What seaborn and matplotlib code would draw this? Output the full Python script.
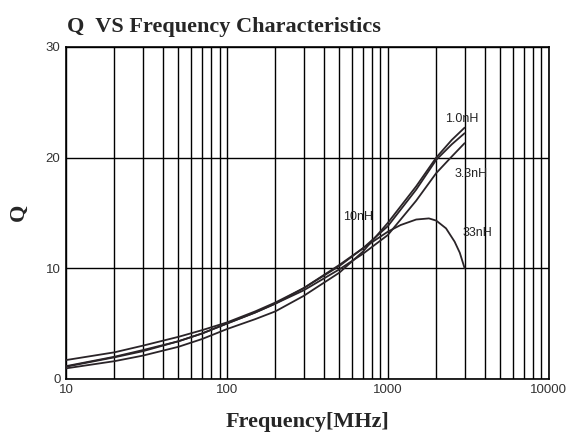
import pandas as pd
import numpy as np
import matplotlib
matplotlib.use("Agg")
import matplotlib.pyplot as plt
import matplotlib.ticker as mticker
import seaborn as sns

# values (Q vs frequency in MHz)
freq = [10, 20, 30, 50, 70, 100, 150, 200, 300, 500, 700, 1000, 1500, 2000, 2500, 3000]
q_1n0 = [0.95, 1.6, 2.1, 2.9, 3.6, 4.5, 5.4, 6.1, 7.5, 9.6, 11.5, 14.1, 17.4, 20.0, 21.6, 22.7]
q_10n = [1.1, 1.95, 2.5, 3.4, 4.1, 5.0, 6.0, 6.8, 8.2, 10.2, 11.8, 13.8, 17.1, 19.8, 21.2, 22.2]
q_3n3 = [1.15, 2.0, 2.6, 3.4, 4.1, 5.0, 6.0, 6.8, 8.0, 9.9, 11.3, 13.0, 16.1, 18.6, 20.1, 21.3]

freq_33 = [10, 20, 30, 50, 70, 100, 150, 200, 300, 500, 700, 1000, 1200, 1500, 1800, 2000, 2300, 2600, 2800, 3000]
q_33n = [1.7, 2.4, 3.0, 3.8, 4.4, 5.1, 6.1, 6.9, 8.2, 10.3, 11.8, 13.3, 13.9, 14.4, 14.5, 14.3, 13.6, 12.4, 11.4, 10.0]

labels = ["1.0nH", "3.3nH", "10nH", "33nH"]
label_pos = [(2890, 23.5), (3300, 18.5), (650, 14.6), (3600, 13.2)]

frames = [
    pd.DataFrame({"freq": freq, "Q": q_1n0, "L": "1.0nH"}),
    pd.DataFrame({"freq": freq, "Q": q_3n3, "L": "3.3nH"}),
    pd.DataFrame({"freq": freq, "Q": q_10n, "L": "10nH"}),
    pd.DataFrame({"freq": freq_33, "Q": q_33n, "L": "33nH"}),
]
df = pd.concat(frames, ignore_index=True)

sns.set_style("white")
plt.rcParams['font.family'] = ['Liberation Sans', 'DejaVu Sans']

fig = plt.figure(figsize=(5.74, 4.34), dpi=100)
ax = fig.add_axes([0.115, 0.127, 0.841, 0.765])

sns.lineplot(data=df, x="freq", y="Q", units="L", estimator=None,
             color="#2a2428", linewidth=1.3, ax=ax, sort=False, zorder=3)

ax.set_xscale("log")
ax.set_xlim(10, 10000)
ax.set_ylim(0, 30)
ax.xaxis.set_major_locator(mticker.FixedLocator([10, 100, 1000, 10000]))
ax.xaxis.set_major_formatter(mticker.FixedFormatter(["10", "100", "1000", "10000"]))
ax.xaxis.set_minor_locator(mticker.LogLocator(base=10, subs=range(2, 10)))
ax.xaxis.set_minor_formatter(mticker.NullFormatter())
ax.set_yticks([0, 10, 20, 30])

ax.grid(True, which="both", axis="x", color="black", linewidth=1.0)
ax.grid(True, which="major", axis="y", color="black", linewidth=1.0)
ax.set_axisbelow(True)
for s in ax.spines.values():
    s.set_color("black")
    s.set_linewidth(1.2)
ax.tick_params(axis="both", which="both", length=0, labelsize=9.5, colors="#333333", pad=4)

for text, (x, y) in zip(labels, label_pos):
    ax.text(x, y, text, fontsize=9, ha="center", va="center", color="#222222", zorder=4)

serif = ['Liberation Serif', 'DejaVu Serif']
ax.set_xlabel("")
ax.set_ylabel("")
fig.text(0.535, 0.016, "Frequency[MHz]", family=serif, fontweight="bold",
         fontsize=16, ha="center", va="baseline")
fig.text(0.033, 0.51, "Q", family=serif, fontweight="bold", fontsize=16,
         rotation=90, ha="center", va="center")
fig.text(0.117, 0.926, "Q  VS Frequency Characteristics", family=serif,
         fontweight="bold", fontsize=16, ha="left", va="baseline")

fig.savefig("out.png", dpi=100)
